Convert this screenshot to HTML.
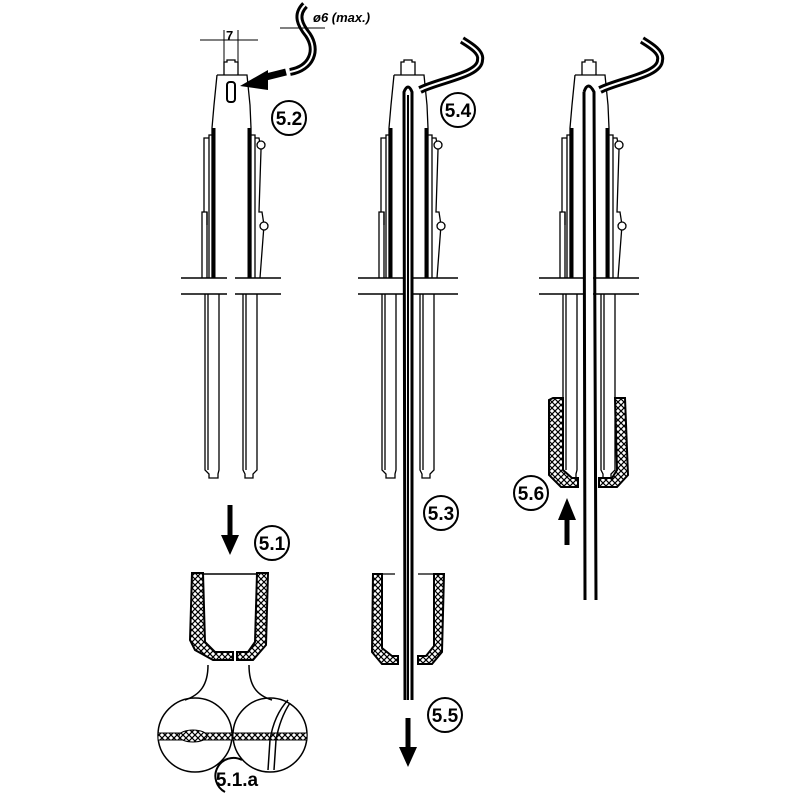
<!DOCTYPE html>
<html><head><meta charset="utf-8"><style>
html,body{margin:0;padding:0;background:#fff;width:800px;height:800px;overflow:hidden}
svg{display:block}
text{font-family:"Liberation Sans",sans-serif;font-weight:bold}
</style></head><body>
<svg width="800" height="800" viewBox="0 0 800 800" xmlns="http://www.w3.org/2000/svg">
<defs>
<pattern id="h" width="6" height="6" patternUnits="userSpaceOnUse">
<rect width="6" height="6" fill="#fff"/>
<path d="M0 0L6 6M6 0L0 6" stroke="#000" stroke-width="1.2"/>
</pattern>
<g id="tool" fill="none" stroke="#000" stroke-width="1.3">
<path d="M-7 75V62h3v-2h8v2h3v13" fill="#fff"/>
<path d="M-14 75H16L19 105 L20 128 M-14 75L-17 105L-19 128"/>
<path d="M-19 128V278M20 128V278" />
<path d="M-17 128V278M18 128V278" stroke-width="3"/>
<path d="M-19 135H-22V278M20 135H24V278"/>
<path d="M-22 138H-27V212H-24V278M24 138H28L30 150L28 212H31L33 225L29 278"/>
<circle cx="30" cy="145" r="4" fill="#fff"/>
<circle cx="33" cy="226" r="4" fill="#fff"/>
<path d="M-27 212H-29V278M-24 212V225"/>
<path d="M-50 278H-4M4 278H50M-50 294H-4M4 294H50" stroke-width="1.5"/>
<path d="M-26 294V470L-22 474V478H-13V474L-12 470V294"/>
<path d="M-23 294V470M15 294V470"/>
<path d="M12 294V470L14 474V478H22V474L26 470V294"/>
</g>
</defs>

<use href="#tool" x="231"/>
<rect x="227" y="82" width="8" height="20" rx="3" fill="#fff" stroke="#000" stroke-width="2"/>
<g stroke="#000" stroke-width="1" fill="none">
<path d="M200 40H258M224 30V62M238 30V62"/>
</g>
<text x="226" y="40" font-size="13" font-weight="normal">7</text>
<path d="M305 5C295 15 300 25 308 35C318 50 312 68 290 72" fill="none" stroke="#000" stroke-width="8"/>
<path d="M305 5C295 15 300 25 308 35C318 50 312 68 290 72" fill="none" stroke="#fff" stroke-width="2"/>
<path d="M286 72L266 77" stroke="#000" stroke-width="7"/>
<path d="M240 86L268 70L268 90Z" fill="#000"/>
<path d="M280 28H325" stroke="#000" stroke-width="1"/>
<text x="313" y="22" font-size="13" font-weight="normal" font-style="italic">ø6 (max.)</text>

<use href="#tool" x="408"/>
<path d="M405 700L404 92Q408 82 412 92L412 700" fill="none" stroke="#000" stroke-width="3"/>
<path d="M408 95V700" stroke="#000" stroke-width="2"/>
<path d="M420 90C440 80 480 75 480 60C482 52 470 45 462 40" fill="none" stroke="#000" stroke-width="8"/>
<path d="M420 90C440 80 480 75 480 60C482 52 470 45 462 40" fill="none" stroke="#fff" stroke-width="2"/>

<use href="#tool" x="589"/>
<path d="M584 92Q588 80 594 92L596 600M584 92L585 600" fill="none" stroke="#000" stroke-width="3"/>
<path d="M600 90C620 80 660 75 660 60C662 52 650 45 642 40" fill="none" stroke="#000" stroke-width="8"/>
<path d="M600 90C620 80 660 75 660 60C662 52 650 45 642 40" fill="none" stroke="#fff" stroke-width="2"/>
<path d="M553 398H563V470L572 478H578V487H561L549 475V400Z" fill="url(#h)" stroke="#000" stroke-width="2"/>
<path d="M615 398H625L628 475L617 487H599V478H612L617 470Z" fill="url(#h)" stroke="#000" stroke-width="2"/>

<path d="M192 573H203L205 642L215 652H233V660H213L195 650L190 640Z" fill="url(#h)" stroke="#000" stroke-width="2"/>
<path d="M257 573H268L266 645L253 660H237V652H248L255 642Z" fill="url(#h)" stroke="#000" stroke-width="2"/>
<path d="M203 574H257" stroke="#000" stroke-width="1.5"/>
<path d="M373 574H382V648L392 656H398V664H382L372 652Z" fill="url(#h)" stroke="#000" stroke-width="2"/>
<path d="M434 574H444L442 652L432 664H418V656H426L434 646Z" fill="url(#h)" stroke="#000" stroke-width="2"/>
<path d="M382 574H395M418 574H434" stroke="#000" stroke-width="1.3"/>

<g fill="none" stroke="#000" stroke-width="1.5">
<path d="M208 665C208 685 200 695 185 700"/>
<path d="M249 665C249 685 256 695 272 700"/>
<circle cx="195" cy="735" r="37"/>
<circle cx="270" cy="735" r="37"/>
</g>
<rect x="158" y="733" width="74" height="7" fill="url(#h)" stroke="#000" stroke-width="1"/>
<ellipse cx="193" cy="736" rx="14" ry="6" fill="url(#h)" stroke="#000"/>
<rect x="233" y="733" width="74" height="7" fill="url(#h)" stroke="#000" stroke-width="1"/>
<path d="M268 770L270 740Q274 715 288 700M274 770L276 740Q280 718 290 703" fill="none" stroke="#000" stroke-width="1.5"/>

<path d="M230 505V540" stroke="#000" stroke-width="5"/>
<path d="M221 535H239L230 555Z" fill="#000"/>
<path d="M408 718V750" stroke="#000" stroke-width="5"/>
<path d="M399 747H417L408 767Z" fill="#000"/>
<path d="M567 545V515" stroke="#000" stroke-width="5"/>
<path d="M558 520H576L567 498Z" fill="#000"/>

<g fill="#fff" stroke="#000" stroke-width="2">
<circle cx="289" cy="118" r="17"/>
<circle cx="458" cy="110" r="17"/>
<circle cx="272" cy="543" r="17"/>
<circle cx="441" cy="513" r="17"/>
<circle cx="445" cy="715" r="17"/>
<circle cx="531" cy="493" r="17"/>
</g>
<path d="M225 792A18 18 0 1 1 242 760" fill="none" stroke="#000" stroke-width="2"/>
<g font-size="19" text-anchor="middle">
<text x="289" y="125">5.2</text>
<text x="458" y="117">5.4</text>
<text x="272" y="550">5.1</text>
<text x="441" y="520">5.3</text>
<text x="445" y="722">5.5</text>
<text x="531" y="500">5.6</text>
<text x="237" y="786">5.1.a</text>
</g>
</svg>
</body></html>
